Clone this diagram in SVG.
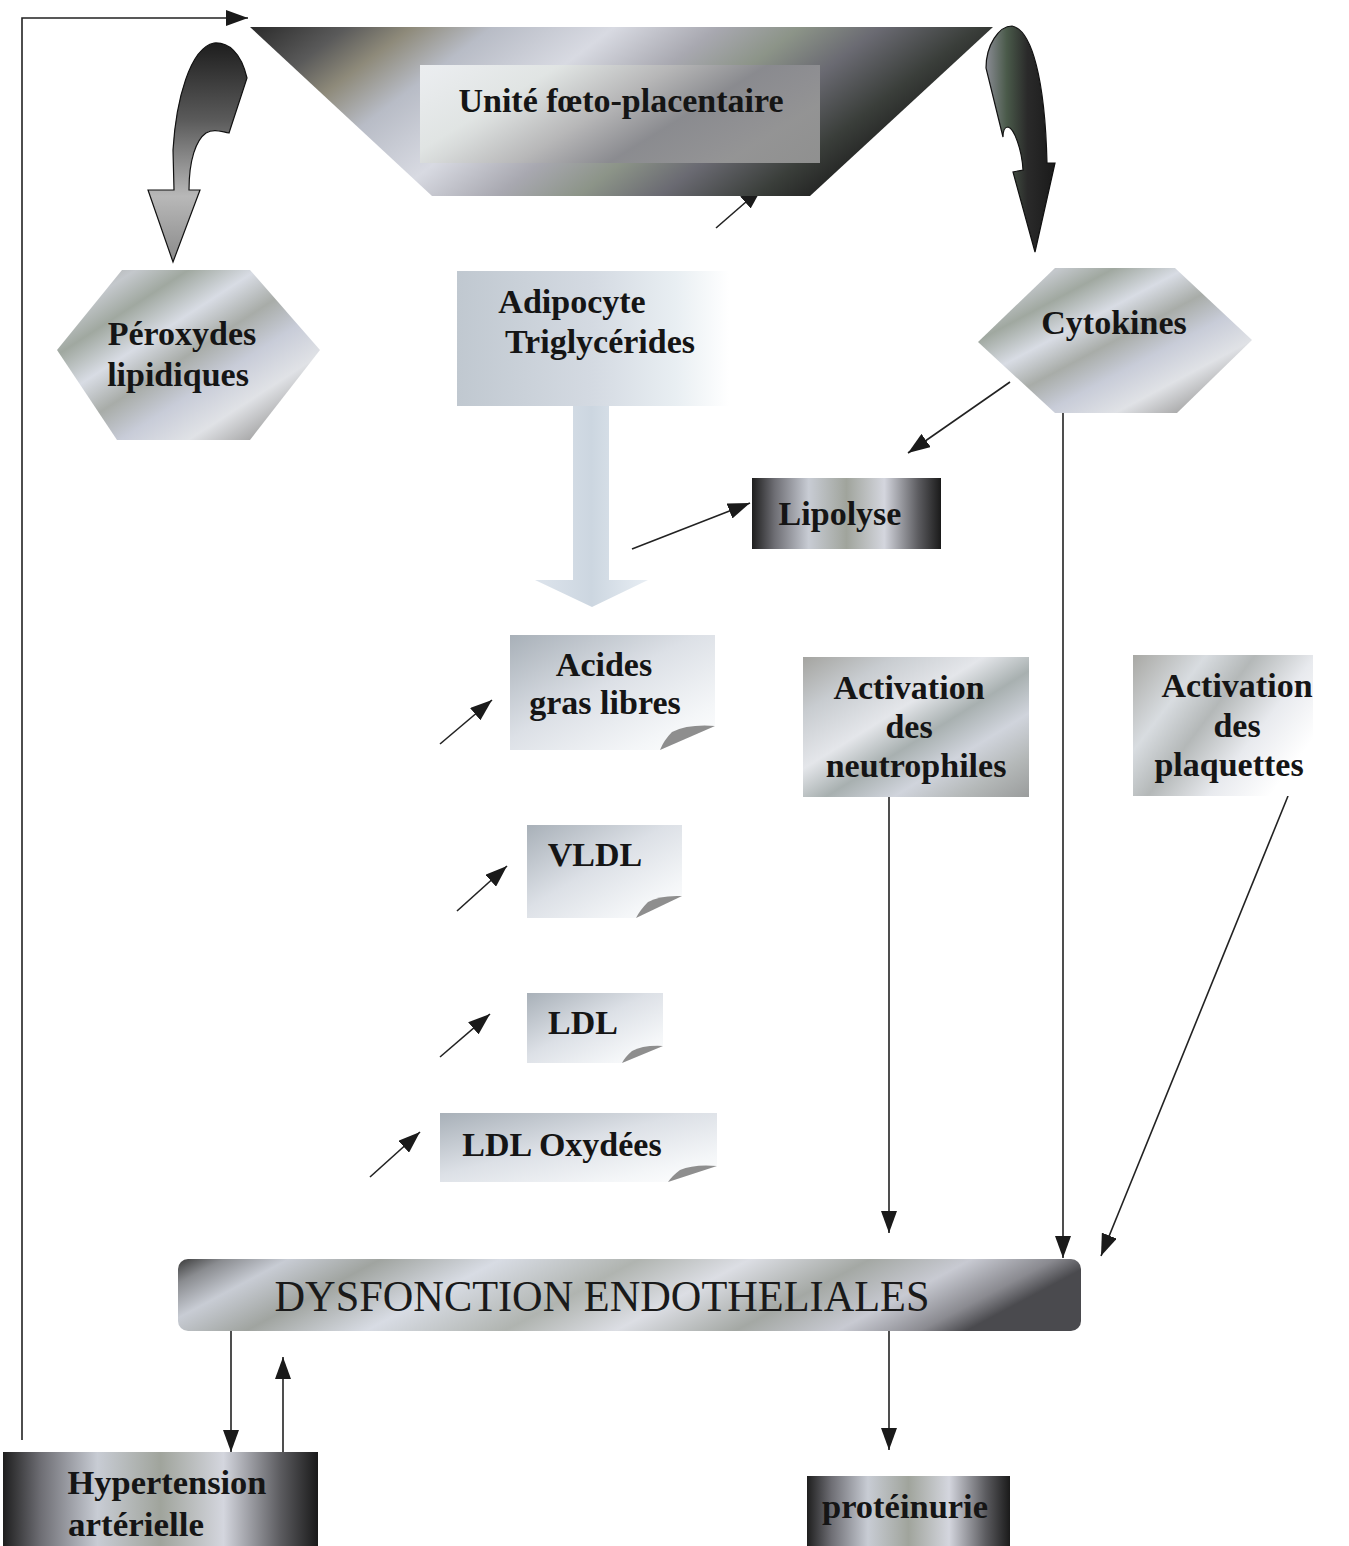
<svg xmlns="http://www.w3.org/2000/svg" width="1349" height="1546" viewBox="0 0 1349 1546">
<style>
.lbl{font-family:"Liberation Serif","Times New Roman",serif;font-weight:bold;font-size:34px;fill:#151515;text-anchor:middle}
.ln{stroke:#222;stroke-width:1.6;fill:none}
</style>
<defs>
<marker id="ah" viewBox="0 0 22 16" refX="22" refY="8" markerWidth="22" markerHeight="16" markerUnits="userSpaceOnUse" orient="auto"><path d="M0,0 L22,8 L0,16 Z" fill="#1a1a1a"/></marker>
<linearGradient id="gTrap" x1="0" y1="0" x2="1" y2="0.3">
<stop offset="0" stop-color="#2a2a2a"/><stop offset="0.12" stop-color="#5a5a5a"/><stop offset="0.2" stop-color="#8e8a7a"/><stop offset="0.3" stop-color="#b8bcc6"/><stop offset="0.45" stop-color="#d8dae2"/><stop offset="0.58" stop-color="#a8a8b0"/><stop offset="0.68" stop-color="#8c9488"/><stop offset="0.78" stop-color="#6a6a72"/><stop offset="0.9" stop-color="#3a3e3a"/><stop offset="1" stop-color="#1c1c1c"/>
</linearGradient>
<linearGradient id="gInner" x1="0" y1="0" x2="1" y2="0.4">
<stop offset="0" stop-color="#f2f4f6"/><stop offset="0.3" stop-color="#e2e6e4"/><stop offset="0.55" stop-color="#b8b8b8"/><stop offset="0.75" stop-color="#8a8a90"/><stop offset="1" stop-color="#9a9a9a"/>
</linearGradient>
<linearGradient id="gMetal" x1="0" y1="0" x2="1" y2="1">
<stop offset="0" stop-color="#9c9c98"/><stop offset="0.15" stop-color="#c4c8cc"/><stop offset="0.25" stop-color="#a0a8a0"/><stop offset="0.38" stop-color="#d8dce4"/><stop offset="0.5" stop-color="#a8aca8"/><stop offset="0.62" stop-color="#c8ccd8"/><stop offset="0.75" stop-color="#e0e2e6"/><stop offset="0.88" stop-color="#a4a4a4"/><stop offset="1" stop-color="#b8bcc0"/>
</linearGradient>
<linearGradient id="gAct" x1="0" y1="0" x2="1" y2="1">
<stop offset="0" stop-color="#a4a4a0"/><stop offset="0.2" stop-color="#c8ccd0"/><stop offset="0.4" stop-color="#e4e6ea"/><stop offset="0.55" stop-color="#a8b0b0"/><stop offset="0.7" stop-color="#d0d4dc"/><stop offset="0.85" stop-color="#b4b8b8"/><stop offset="1" stop-color="#9a9c9c"/>
</linearGradient>
<linearGradient id="gPlaq" x1="0" y1="0" x2="1" y2="0.6">
<stop offset="0" stop-color="#a8a8a4"/><stop offset="0.3" stop-color="#d8dce0"/><stop offset="0.5" stop-color="#b4b8b8"/><stop offset="0.75" stop-color="#e8eaee"/><stop offset="1" stop-color="#ffffff"/>
</linearGradient>
<linearGradient id="gAdipo" x1="0" y1="0" x2="1" y2="0">
<stop offset="0" stop-color="#c0c8d0"/><stop offset="0.5" stop-color="#d4dae2"/><stop offset="0.8" stop-color="#e8eef2"/><stop offset="1" stop-color="#ffffff"/>
</linearGradient>
<linearGradient id="gDark" x1="0" y1="0" x2="1" y2="0">
<stop offset="0" stop-color="#1e1e1e"/><stop offset="0.12" stop-color="#6e6e74"/><stop offset="0.3" stop-color="#c8ccd4"/><stop offset="0.5" stop-color="#a0a49c"/><stop offset="0.7" stop-color="#d4d6de"/><stop offset="0.88" stop-color="#5c5c60"/><stop offset="1" stop-color="#1a1a1a"/>
</linearGradient>
<linearGradient id="gDys" x1="0" y1="0" x2="1" y2="0.15">
<stop offset="0" stop-color="#3a3a3a"/><stop offset="0.05" stop-color="#8a8c90"/><stop offset="0.12" stop-color="#c8ccd4"/><stop offset="0.22" stop-color="#a0a4a0"/><stop offset="0.35" stop-color="#d8dce4"/><stop offset="0.5" stop-color="#b0b4b0"/><stop offset="0.62" stop-color="#dcdee4"/><stop offset="0.75" stop-color="#a4a8a4"/><stop offset="0.86" stop-color="#c8cad2"/><stop offset="0.95" stop-color="#8a8a90"/><stop offset="1" stop-color="#4a4a4e"/>
</linearGradient>
<linearGradient id="gNote" x1="0" y1="0" x2="1" y2="1">
<stop offset="0" stop-color="#a8b0b8"/><stop offset="0.45" stop-color="#dce0e6"/><stop offset="0.8" stop-color="#f4f6f8"/><stop offset="1" stop-color="#ffffff"/>
</linearGradient>
<linearGradient id="gArrL" x1="0" y1="0" x2="0" y2="1">
<stop offset="0" stop-color="#1e1e1e"/><stop offset="0.35" stop-color="#5a5a5a"/><stop offset="0.7" stop-color="#b8b8b8"/><stop offset="1" stop-color="#8a8a8a"/>
</linearGradient>
<linearGradient id="gArrR" x1="0" y1="0" x2="1" y2="0">
<stop offset="0" stop-color="#8a8c94"/><stop offset="0.3" stop-color="#4a5a4a"/><stop offset="0.6" stop-color="#2a2a2a"/><stop offset="1" stop-color="#1a1a1a"/>
</linearGradient>
<linearGradient id="gBig" x1="0" y1="0" x2="1" y2="0">
<stop offset="0" stop-color="#dde4ec"/><stop offset="0.5" stop-color="#ccd6e0"/><stop offset="1" stop-color="#e8eef4"/>
</linearGradient>
</defs>

<g id="connectors">
<path class="ln" d="M22,1440 V18 H248" marker-end="url(#ah)"/>
<path class="ln" d="M716,228 L762,188" marker-end="url(#ah)"/>
<path class="ln" d="M1010,382 L908,453" marker-end="url(#ah)"/>
<path class="ln" d="M632,549 L750,503" marker-end="url(#ah)"/>
<path class="ln" d="M440,744 L492,700" marker-end="url(#ah)"/>
<path class="ln" d="M457,911 L507,866" marker-end="url(#ah)"/>
<path class="ln" d="M440,1057 L490,1014" marker-end="url(#ah)"/>
<path class="ln" d="M370,1177 L420,1132" marker-end="url(#ah)"/>
<path class="ln" d="M889,797 V1233" marker-end="url(#ah)"/>
<path class="ln" d="M1063,413 V1258" marker-end="url(#ah)"/>
<path class="ln" d="M1288,796 L1101,1256" marker-end="url(#ah)"/>
<path class="ln" d="M231,1331 V1452" marker-end="url(#ah)"/>
<path class="ln" d="M283,1452 V1357" marker-end="url(#ah)"/>
<path class="ln" d="M889,1331 V1450" marker-end="url(#ah)"/>
<path d="M247,78 C241,52 228,42 214,43 C190,48 176,100 173,150 L174,190 L148,190 L173,262 L200,190 L189,190 C189,160 196,140 206,133 C214,128 222,132 229,133 Z" fill="url(#gArrL)" stroke="#111" stroke-width="1.2"/>
<path d="M986,68 C986,45 999,26 1012,26 C1032,30 1045,80 1047,163 L1055,163 L1035,252 L1013,172 L1023,170 C1022,150 1014,128 1008,127 C1004,127 1003,132 1003,137 Z" fill="url(#gArrR)" stroke="#111" stroke-width="1.2"/>
<path d="M573,406 H609 V580 H648 L592,607 L535,580 H573 Z" fill="url(#gBig)"/>
</g>

<g id="unite">
<polygon points="250,27 993,27 810,196 432,196" fill="url(#gTrap)"/>
<rect x="420" y="65" width="400" height="98" fill="url(#gInner)" opacity="0.9"/>
<text class="lbl" x="621" y="112" font-size="37">Unité fœto-placentaire</text>
</g>

<g id="peroxydes">
<polygon points="122,270 250,270 320,350 250,440 117,440 57,350" fill="url(#gMetal)"/>
<text class="lbl" x="182" y="345">Péroxydes</text>
<text class="lbl" x="178" y="386">lipidiques</text>
</g>

<g id="adipocyte">
<rect x="457" y="271" width="272" height="135" fill="url(#gAdipo)"/>
<text class="lbl" x="572" y="313">Adipocyte</text>
<text class="lbl" x="600" y="353">Triglycérides</text>
</g>

<g id="cytokines">
<polygon points="1055,268 1175,268 1252,340 1177,413 1055,413 978,342" fill="url(#gMetal)"/>
<text class="lbl" x="1114" y="334">Cytokines</text>
</g>

<g id="lipolyse">
<rect x="752" y="478" width="189" height="71" fill="url(#gDark)"/>
<text class="lbl" x="840" y="525">Lipolyse</text>
</g>

<g id="acides">
<path d="M510,635 H715 V726 L660,750 H510 Z" fill="url(#gNote)"/>
<path d="M660,750 L715,726 Q688,724 672,732 Q664,740 660,750 Z" fill="#8e8e8e"/>
<text class="lbl" x="604" y="676">Acides</text>
<text class="lbl" x="605" y="714">gras libres</text>
</g>

<g id="vldl">
<path d="M527,825 H682 V896 L636,918 H527 Z" fill="url(#gNote)"/>
<path d="M636,918 L682,896 Q660,895 648,902 Q640,910 636,918 Z" fill="#8e8e8e"/>
<text class="lbl" x="595" y="866">VLDL</text>
</g>

<g id="ldl">
<path d="M527,993 H663 V1046 L622,1063 H527 Z" fill="url(#gNote)"/>
<path d="M622,1063 L663,1046 Q643,1045 632,1051 Q625,1057 622,1063 Z" fill="#8e8e8e"/>
<text class="lbl" x="583" y="1034">LDL</text>
</g>

<g id="ldlox">
<path d="M440,1113 H717 V1166 L668,1182 H440 Z" fill="url(#gNote)"/>
<path d="M668,1182 L717,1166 Q694,1164 680,1170 Q672,1176 668,1182 Z" fill="#8e8e8e"/>
<text class="lbl" x="562" y="1156">LDL Oxydées</text>
</g>

<g id="neutrophiles">
<rect x="803" y="657" width="226" height="140" fill="url(#gAct)"/>
<text class="lbl" x="909" y="699">Activation</text>
<text class="lbl" x="909" y="738">des</text>
<text class="lbl" x="916" y="777">neutrophiles</text>
</g>

<g id="plaquettes">
<rect x="1133" y="655" width="180" height="141" fill="url(#gPlaq)"/>
<text class="lbl" x="1237" y="697">Activation</text>
<text class="lbl" x="1237" y="737">des</text>
<text class="lbl" x="1229" y="776">plaquettes</text>
</g>

<g id="dysfonction">
<rect x="178" y="1259" width="903" height="72" rx="10" fill="url(#gDys)"/>
<text x="602" y="1311" font-family="'Liberation Serif','Times New Roman',serif" font-size="44" fill="#1a1a1a" text-anchor="middle" textLength="655" lengthAdjust="spacingAndGlyphs">DYSFONCTION ENDOTHELIALES</text>
</g>

<g id="hypertension">
<rect x="3" y="1452" width="315" height="94" fill="url(#gDark)"/>
<text class="lbl" x="167" y="1494" font-size="37" textLength="199" lengthAdjust="spacingAndGlyphs">Hypertension</text>
<text class="lbl" x="136" y="1536" font-size="37" textLength="136" lengthAdjust="spacingAndGlyphs">artérielle</text>
</g>

<g id="proteinurie">
<rect x="807" y="1476" width="203" height="70" fill="url(#gDark)"/>
<text class="lbl" x="905" y="1518" font-size="36" textLength="166" lengthAdjust="spacingAndGlyphs">protéinurie</text>
</g>
</svg>
